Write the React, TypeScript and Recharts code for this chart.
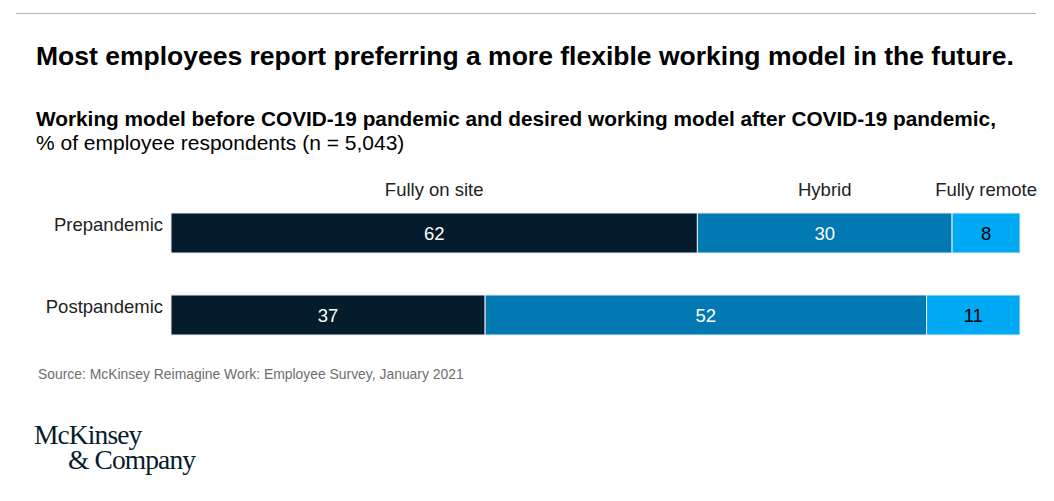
import React from 'react';
import { BarChart, Bar, XAxis, YAxis, LabelList } from 'recharts';

const categories = ['Prepandemic', 'Postpandemic'];
const fullyOnSite = [62, 37];
const hybrid = [30, 52];
const fullyRemote = [8, 11];
const seriesNames = ['Fully on site', 'Hybrid', 'Fully remote'];

const data = categories.map((name, i) => ({
  name,
  onSite: fullyOnSite[i],
  hybrid: hybrid[i],
  remote: fullyRemote[i],
}));

const FONT = '"Liberation Sans", Arial, sans-serif';
const SERIF = '"Liberation Serif", "Times New Roman", serif';
const COLORS = ['#051c2c', '#0279b3', '#00a9f4'];

const headerLabel = (title: string) => (props: any) => {
  const { x, y, width, index } = props;
  if (index !== 0) return null;
  return (
    <text
      x={Number(x) + Number(width) / 2}
      y={Number(y) - 24}
      textAnchor="middle"
      dominantBaseline="central"
      fill="#222"
      fontSize={18.5}
      fontFamily={FONT}
    >
      {title}
    </text>
  );
};

const CategoryTick = (props: any) => {
  const { y, payload } = props;
  return (
    <text x={163} y={y - 9} textAnchor="end" dominantBaseline="central" fill="#222" fontSize={18.5} fontFamily={FONT}>
      {payload.value}
    </text>
  );
};

export default function App() {
  const keys = ['onSite', 'hybrid', 'remote'];
  const logoStyle: React.CSSProperties = {
    position: 'absolute',
    fontFamily: SERIF,
    fontSize: 27.5,
    lineHeight: '24px',
    color: '#051c2c',
    letterSpacing: -0.9,
    whiteSpace: 'nowrap',
  };
  return (
    <div style={{ position: 'absolute', top: 0, left: 0, width: 1054, height: 501, background: '#fff', fontFamily: FONT }}>
      <div style={{ position: 'absolute', top: 13, left: 16, width: 1020, height: 1, background: '#b3b3b3' }} />
      <div style={{ position: 'absolute', top: 40, left: 36, fontSize: 26.5, lineHeight: '32px', fontWeight: 700, color: '#000', whiteSpace: 'nowrap' }}>
        Most employees report preferring a more flexible working model in the future.
      </div>
      <div style={{ position: 'absolute', top: 107, left: 36, fontSize: 20.8, lineHeight: '24px', fontWeight: 700, color: '#000', whiteSpace: 'nowrap' }}>
        Working model before COVID-19 pandemic and desired working model after COVID-19 pandemic,
      </div>
      <div style={{ position: 'absolute', top: 131, left: 36, fontSize: 21, lineHeight: '24px', color: '#000', whiteSpace: 'nowrap' }}>
        % of employee respondents (n = 5,043)
      </div>
      <div style={{ position: 'absolute', top: 150, left: 0 }}>
        <BarChart
          width={1054}
          height={220}
          data={data}
          layout="vertical"
          margin={{ top: 42, right: 34, bottom: 14, left: 0 }}
        >
          <XAxis type="number" domain={[0, 100]} hide />
          <YAxis
            type="category"
            dataKey="name"
            width={171}
            axisLine={false}
            tickLine={false}
            tick={<CategoryTick />}
          />
          {keys.map((k, i) => (
            <Bar
              key={k}
              dataKey={k}
              stackId="a"
              fill={COLORS[i]}
              stroke="#e8eef2"
              strokeWidth={1}
              barSize={40}
              isAnimationActive={false}
            >
              <LabelList
                dataKey={k}
                position="center"
                fill={i === 2 ? '#000' : '#fff'}
                fontSize={18.5}
                fontFamily={FONT}
              />
              <LabelList dataKey={k} content={headerLabel(seriesNames[i])} />
            </Bar>
          ))}
        </BarChart>
      </div>
      <div style={{ position: 'absolute', top: 366, left: 38, fontSize: 13.9, color: '#6e6e6e', whiteSpace: 'nowrap' }}>
        Source: McKinsey Reimagine Work: Employee Survey, January 2021
      </div>
      <div style={{ ...logoStyle, top: 423, left: 34 }}>McKinsey</div>
      <div style={{ ...logoStyle, top: 448, left: 68 }}>&amp; Company</div>
    </div>
  );
}
